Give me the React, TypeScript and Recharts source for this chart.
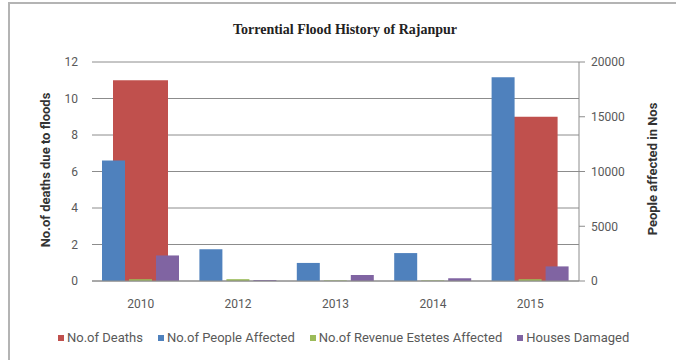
import { ComposedChart, Bar, XAxis, YAxis, CartesianGrid } from "recharts";

const years = ["2010", "2012", "2013", "2014", "2015"];
const deaths = [11, 0, 0, 0, 9];
const peopleAffected = [11000, 2900, 1650, 2550, 18600];
const revenueEstates = [0.1, 0.1, 0.03, 0.03, 0.1];
const housesDamaged = [1.4, 0.05, 0.33, 0.15, 0.8];

const leftTicks = [0, 2, 4, 6, 8, 10, 12];
const rightTicks = [0, 5000, 10000, 15000, 20000];

const chartData = years.map((year, i) => ({
  year,
  deaths: deaths[i],
  people: peopleAffected[i],
  revenue: revenueEstates[i],
  houses: housesDamaged[i],
}));

const legendItems = [
  { label: "No.of Deaths", color: "#C0504D" },
  { label: "No.of People Affected", color: "#4F81BD" },
  { label: "No.of Revenue Estetes Affected", color: "#9BBB59" },
  { label: "Houses Damaged", color: "#8064A2" },
];

const tickStyle = { fill: "#595959", fontSize: 12, fontFamily: "Roboto" };

export default function App() {
  return (
    <div
      style={{
        position: "fixed",
        left: 0,
        top: 0,
        width: 676,
        height: 360,
        overflow: "hidden",
        background: "#fff",
        fontFamily: "Roboto",
      }}
    >
      {/* chart frame, runs off the right and bottom edge */}
      <div
        style={{
          position: "absolute",
          left: 8,
          top: 2,
          width: 720,
          height: 400,
          border: "2px solid #b4b4b4",
        }}
      />

      <div
        style={{
          position: "absolute",
          left: 0,
          width: 690,
          top: 22,
          textAlign: "center",
          fontFamily: "Liberation Serif",
          fontWeight: "bold",
          fontSize: 14,
          color: "#222",
        }}
      >
        Torrential Flood History of Rajanpur
      </div>

      <div
        style={{
          position: "absolute",
          left: 45,
          top: 170,
          transform: "translate(-50%, -50%) rotate(-90deg)",
          whiteSpace: "nowrap",
          fontWeight: "bold",
          fontSize: 13,
          color: "#333",
        }}
      >
        No.of deaths due to floods
      </div>

      <div
        style={{
          position: "absolute",
          left: 652,
          top: 169,
          transform: "translate(-50%, -50%) rotate(-90deg)",
          whiteSpace: "nowrap",
          fontWeight: "bold",
          fontSize: 13,
          color: "#333",
        }}
      >
        People affected in Nos
      </div>

      <div style={{ position: "absolute", left: 0, top: 0 }}>
        <ComposedChart
          width={676}
          height={360}
          data={chartData}
          margin={{ top: 62, right: 37, left: 32, bottom: 49 }}
        >
          <CartesianGrid
            xAxisId="main"
            yAxisId="left"
            vertical={false}
            stroke="#8c8c8c"
          />
          <XAxis
            xAxisId="main"
            dataKey="year"
            height={30}
            axisLine={{ stroke: "#8c8c8c" }}
            tickLine={false}
            tick={tickStyle}
            tickMargin={12}
          />
          <XAxis xAxisId="back" dataKey="year" height={0} hide />
          <YAxis
            yAxisId="left"
            width={60}
            domain={[0, 12]}
            ticks={leftTicks}
            axisLine={false}
            tickLine={false}
            tick={tickStyle}
            tickMargin={8}
          />
          <YAxis
            yAxisId="right"
            orientation="right"
            width={60}
            domain={[0, 20000]}
            ticks={rightTicks}
            axisLine={{ stroke: "#8c8c8c" }}
            tickLine={{ stroke: "#8c8c8c" }}
            tickSize={6}
            tick={tickStyle}
            tickMargin={6}
          />
          <Bar
            xAxisId="back"
            yAxisId="left"
            dataKey="deaths"
            fill="#C0504D"
            barSize={55}
            isAnimationActive={false}
          />
          <Bar
            xAxisId="main"
            yAxisId="right"
            dataKey="people"
            fill="#4F81BD"
            barSize={23}
            isAnimationActive={false}
          />
          <Bar
            xAxisId="main"
            yAxisId="left"
            dataKey="revenue"
            fill="#9BBB59"
            barSize={23}
            isAnimationActive={false}
          />
          <Bar
            xAxisId="main"
            yAxisId="left"
            dataKey="houses"
            fill="#8064A2"
            barSize={23}
            isAnimationActive={false}
          />
        </ComposedChart>
      </div>

      <div
        style={{
          position: "absolute",
          left: 58,
          top: 330,
          display: "flex",
          gap: 15,
          fontSize: 13,
          color: "#595959",
          whiteSpace: "nowrap",
        }}
      >
        {legendItems.map((item) => (
          <div key={item.label} style={{ display: "flex", alignItems: "center", gap: 3 }}>
            <span style={{ width: 6, height: 6, background: item.color, display: "inline-block" }} />
            <span>{item.label}</span>
          </div>
        ))}
      </div>
    </div>
  );
}
